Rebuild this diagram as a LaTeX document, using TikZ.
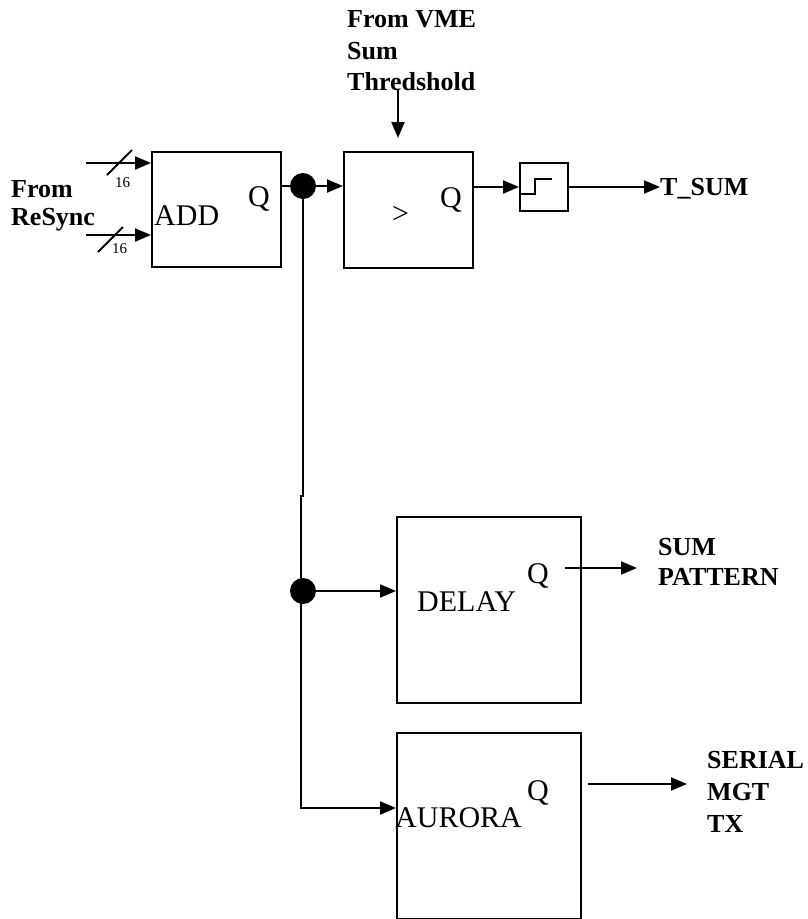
\documentclass[tikz,border=0pt]{standalone}
\usepackage{fontspec}
\setmainfont{Liberation Serif}
\usetikzlibrary{arrows.meta}
\begin{document}
\begin{tikzpicture}[x=1pt,y=-1pt,
  wire/.style={line width=2pt},
  arr/.style={wire,-{Triangle[length=16pt,width=13pt]}},
  blk/.style={draw,line width=2pt,inner sep=0,anchor=north west},
  lbl/.style={anchor=base west,inner sep=0,font=\fontsize{26}{30}\selectfont\bfseries},
  txt/.style={anchor=base west,inner sep=0,font=\fontsize{30}{36}\selectfont},
  small/.style={anchor=base west,inner sep=0,font=\fontsize{15}{18}\selectfont},
  dotnode/.style={circle,fill,inner sep=0,minimum size=26pt}]
\useasboundingbox (0,0) rectangle (808,919);

% boxes
\node[blk,minimum width=129pt,minimum height=115pt] (add) at (151,151) {};
\node[blk,minimum width=129pt,minimum height=116pt] (cmp) at (343,151) {};
\node[blk,minimum width=48pt,minimum height=48pt] (stp) at (519,162) {};
\node[blk,minimum width=184pt,minimum height=186pt] (del) at (396,516) {};
\node[blk,minimum width=184pt,minimum height=186pt] (aur) at (396,732) {};

% texts
\node[lbl] (from1) at (11,197) {From};
\node[lbl] (from2) at (11,225) {ReSync};
\node[small] (n16a) at (115,187) {16};
\node[small] (n16b) at (112,253) {16};
\node[txt] (addt) at (154,225) {ADD};
\node[txt] (addq) at (248,206) {Q};
\node[txt] (cmpq) at (440,207) {Q};
\node[txt] (cmpg) at (392,223) {>};
\node[lbl] (vme1) at (347,27) {From VME};
\node[lbl] (vme2) at (347,59) {Sum};
\node[lbl] (vme3) at (347,90) {Thredshold};
\node[lbl] (tsum) at (660,195) {T\_SUM};
\node[txt] (delt) at (417,611) {DELAY};
\node[txt] (delq) at (527,583) {Q};
\node[lbl] (sum1) at (658,555) {SUM};
\node[lbl] (sum2) at (658,585) {PATTERN};
\node[txt] (aurt) at (395,827) {AURORA};
\node[txt] (aurq) at (527,800) {Q};
\node[lbl] (ser1) at (707,768) {SERIAL};
\node[lbl] (ser2) at (707,800) {MGT};
\node[lbl] (ser3) at (707,832) {TX};

% junctions
\node[dotnode] (j1) at (303,186) {};
\node[dotnode] (j2) at (303,591) {};

% coordinates
\coordinate (in1) at (86,163);
\coordinate (in2) at (86,235);
\coordinate (thr) at (398,90);
\coordinate (thrtip) at (398,138);
\coordinate (jog1) at (303,496);
\coordinate (jog2) at (301,496);
\coordinate (bend) at (301,808);
\coordinate (dq) at (565,568);
\coordinate (sumtip) at (637,568);
\coordinate (aq) at (588,784);
\coordinate (sertip) at (687,784);

% connectors
\draw[arr] (in1) -- (in1 -| add.west);
\draw[arr] (in2) -- (in2 -| add.west);
\draw[wire] (107,175) -- (132,150);
\draw[wire] (98,252) -- (123,227);
\draw[wire] (add.east |- j1) -- (j1);
\draw[arr] (j1) -- (cmp.west |- j1);
\draw[arr] (thr) -- (thrtip);
\draw[arr] (cmp.east |- stp.west) -- (stp.west);
\draw[wire] (519,194) -- (535,194) -- (535,179) -- (552,179);
\draw[arr] (stp.east) -- (stp.east -| tsum.west);
\draw[arr] (j1.center) -- (jog1) -- (jog2) -- (bend) -- (bend -| aur.west);
\draw[arr] (j2) -- (j2 -| del.west);
\draw[arr] (dq) -- (sumtip);
\draw[arr] (aq) -- (sertip);
\end{tikzpicture}
\end{document}
